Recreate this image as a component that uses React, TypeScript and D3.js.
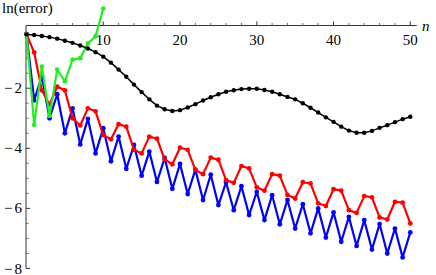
import React from "react";
import * as d3 from "d3";

// values, index = n
const blackSeries = [
  -0.21, -0.23, -0.26, -0.3, -0.35, -0.42, -0.49, -0.58, -0.68, -0.8, -0.95,
  -1.15, -1.38, -1.62, -1.88, -2.13, -2.37, -2.58, -2.7, -2.76, -2.73, -2.64,
  -2.53, -2.41, -2.3, -2.2, -2.12, -2.07, -2.03, -2.02, -2.02, -2.06, -2.12,
  -2.2, -2.29, -2.37, -2.5, -2.65, -2.81, -2.97, -3.12, -3.28, -3.41, -3.48,
  -3.48, -3.42, -3.32, -3.23, -3.13, -3.03, -2.95,
];
const blueSeries = [
  -0.2, -2.4, -1.6, -3.0, -2.2, -3.5, -2.67, -3.87, -3.02, -4.17, -3.33,
  -4.43, -3.61, -4.68, -3.89, -4.91, -4.11, -5.12, -4.32, -5.35, -4.52, -5.52,
  -4.71, -5.72, -4.88, -5.89, -5.13, -6.06, -5.26, -6.22, -5.45, -6.39, -5.56,
  -6.53, -5.72, -6.67, -5.86, -6.83, -6.0, -6.97, -6.13, -7.11, -6.28, -7.25,
  -6.39, -7.37, -6.52, -7.5, -6.67, -7.63, -6.8,
];
const redSeries = [
  -0.2, -0.81, -2.07, -2.54, -1.95, -2.07, -3.0, -3.24, -2.67, -2.77, -3.56,
  -3.7, -3.2, -3.28, -4.05, -4.17, -3.61, -3.68, -4.37, -4.53, -3.98, -4.05,
  -4.72, -4.86, -4.31, -4.38, -5.06, -5.15, -4.59, -4.67, -5.3, -5.41, -4.86,
  -4.91, -5.55, -5.67, -5.13, -5.17, -5.83, -5.92, -5.36, -5.41, -6.06, -6.15,
  -5.59, -5.63, -6.3, -6.37, -5.78, -5.81, -6.5,
];
const greenSeries = [-0.2, -3.22, -1.28, -2.92, -1.38, -1.77, -1.05, -1.0, -0.51, -0.27, 0.65];

const xMajor = [10, 20, 30, 40, 50];
const yMajor = [-2, -4, -6, -8];

const W = 436;
const H = 275;

const x = d3.scaleLinear().domain([0, 50]).range([26.5, 410.3]);
const y = d3.scaleLinear().domain([-8, 0.087]).range([268.5, 25.5]);

const line = d3
  .line<number>()
  .x((_, i) => x(i))
  .y((d) => y(d));

const series = [
  { values: blueSeries, color: "#0000ff", width: 2.2, r: 2.4 },
  { values: redSeries, color: "#ff0000", width: 2.2, r: 2.4 },
  { values: greenSeries, color: "#22ee22", width: 2.2, r: 2.4 },
  { values: blackSeries, color: "#000000", width: 1.5, r: 2.2 },
];

const font = '"Liberation Serif", "DejaVu Serif", "Noto Serif", serif';

export default function App() {
  const axisY = y.range()[1];
  const axisX = 26;
  const xMinor = d3.range(2, 51, 2).filter((v) => v % 10 !== 0);
  const yMinor = d3.range(-0.5, -8, -0.5).filter((v) => v % 2 !== 0);

  return (
    <svg
      width={W}
      height={H}
      style={{ position: "absolute", left: 0, top: 0, background: "#fff" }}
    >
      {/* axes */}
      <g stroke="#333" strokeWidth={1} fill="none">
        <line x1={axisX} x2={416.7} y1={axisY} y2={axisY} />
        <line x1={axisX} x2={axisX} y1={axisY} y2={y(-8)} />
        {xMajor.map((v) => (
          <line key={"xM" + v} x1={x(v)} x2={x(v)} y1={axisY} y2={axisY - 4} />
        ))}
        {xMinor.map((v) => (
          <line key={"xm" + v} x1={x(v)} x2={x(v)} y1={axisY} y2={axisY - 2.5} stroke="#666" />
        ))}
        {yMajor.map((v) => (
          <line key={"yM" + v} x1={axisX} x2={axisX + 4} y1={y(v)} y2={y(v)} />
        ))}
        {yMinor.map((v) => (
          <line key={"ym" + v} x1={axisX} x2={axisX + 2.5} y1={y(v)} y2={y(v)} stroke="#666" />
        ))}
      </g>

      <g fontFamily={font} fontSize={15} fill="#000">
        {xMajor.map((v) => (
          <text key={"xl" + v} x={x(v)} y={axisY + 19.5} textAnchor="middle">
            {v}
          </text>
        ))}
        {yMajor.map((v) => (
          <text key={"yl" + v} x={22} y={y(v) + 5} textAnchor="end">
            {"\u2212"}
            <tspan dx={2}>{Math.abs(v)}</tspan>
          </text>
        ))}
        <text x={2} y={12.5}>ln(error)</text>
        <text x={422} y={31} fontStyle="italic">n</text>
      </g>

      {series.map((s, k) => (
        <g key={k}>
          <path d={line(s.values) || ""} fill="none" stroke={s.color} strokeWidth={s.width} strokeLinejoin="round" />
          {s.values.map((v, i) => (
            <circle key={i} cx={x(i)} cy={y(v)} r={s.r} fill={s.color} />
          ))}
        </g>
      ))}
    </svg>
  );
}
